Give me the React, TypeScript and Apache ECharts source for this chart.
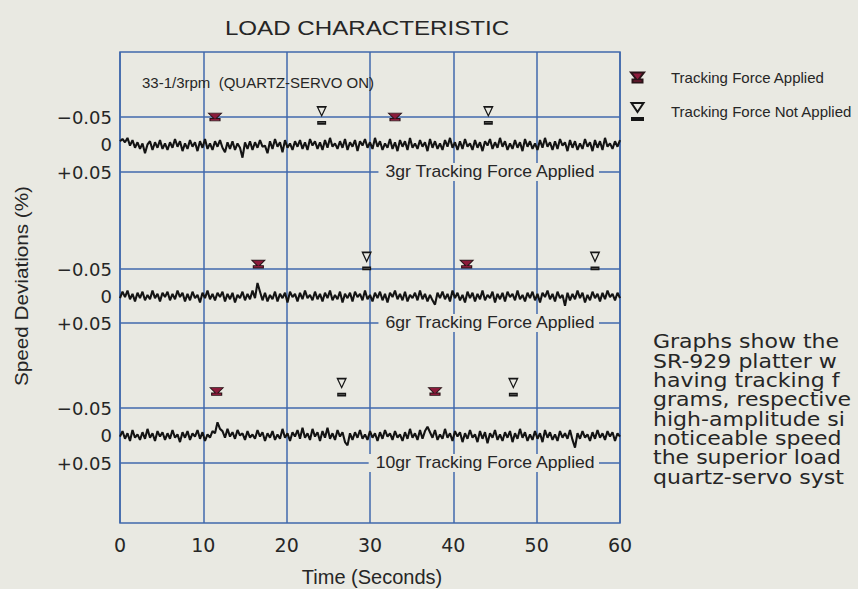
import React, { useEffect, useRef } from "react";
import * as echarts from "echarts";

// ---------- data ----------
const TITLE = "LOAD CHARACTERISTIC";
const SUBTITLE = "33-1/3rpm  (QUARTZ-SERVO ON)";
const X_NAME = "Time (Seconds)";
const Y_NAME = "Speed Deviations (%)";
const TIME_MIN = 0;
const TIME_MAX = 60;
const TIME_STEP = 10;
const Y_TICK_LABELS: Record<string, string> = { "-0.05": "\u22120.05", "0": "0", "0.05": "+0.05" };
const BAND_LABELS = ["3gr Tracking Force Applied", "6gr Tracking Force Applied", "10gr Tracking Force Applied"];
const LEGEND_APPLIED = "Tracking Force Applied";
const LEGEND_NOT_APPLIED = "Tracking Force Not Applied";

// marker times (s) per band
const APPLIED_T = [[11.4, 33.0], [16.6, 41.6], [11.6, 37.8]];
const NOT_APPLIED_T = [[24.2, 44.2], [29.6, 57.0], [26.6, 47.2]];
// marker heights (%) per band
const APPLIED_Y = [-0.05, -0.059, -0.08];
const NOT_APPLIED_Y = [-0.053, -0.065, -0.088];

// traces: one sample every 0.3 s, values in steps of 0.002 %
const SAMPLE_STEP = 0.3;
const TRACE_UNIT = 0.002;
const trace3gr = [
  -3, -5, -2, -6, 1, -4, 3, -2, 4, -1, 8, 0, -3, 5, -2, 3, -4, 4, -1, 5,
  -2, 3, -5, 2, -3, 6, -1, 4, -4, 2, -2, 6, -3, 3, -5, 4, -1, 5, -3, 2,
  -4, 3, 7, -2, 4, -3, 5, -1, 3, 12, -2, 4, -3, 5, -2, 3, -4, 2, 1, 8,
  -3, 4, -5, 2, -2, 7, -4, 3, -1, 5, -3, 2, -4, 4, -2, 5, -5, 1, -3, 4,
  -2, 5, -4, 3, -6, 2, -1, 4, -3, 3, -5, 5, -2, 2, -4, 6, -3, 1, -5, 3,
  -2, 4, -6, 2, -3, 5, -1, 3, -5, 4, -2, 6, -4, 2, -3, 5, -6, 3, -1, 4,
  -4, 2, -2, 6, -5, 3, -3, 4, -1, 5, -4, 2, -6, 3, -2, 5, -3, 4, -5, 2,
  -1, 5, -4, 3, -2, 6, -3, 1, -5, 4, -2, 3, -6, 2, -3, 5, -1, 4, -4, 3,
  -2, 6, -5, 2, -3, 4, -1, 5, -4, 3, -6, 2, -2, 5, -3, 4, -5, 1, -2, 6,
  -4, 3, -3, 5, -1, 4, -5, 2, -2, 6, -4, 3, -3, 5, -6, 2, -1, 4, -3, 2, -4,
];
const trace6gr = [
  2, -4, 1, -5, 3, -2, 5, -3, 2, -4, 4, -1, 3, -5, 2, -2, 5, -3, 1, -4,
  4, -2, 3, -5, 1, -3, 5, -2, 4, -4, 2, -1, 6, -3, 2, -5, 3, -2, 4, -3,
  1, -4, 5, -2, 3, -3, 6, -1, 2, -4, 4, -2, 3, -5, 2, -12, -4, 4, -3, 5,
  -1, 3, -4, 5, -2, 2, -3, 6, -4, 1, -2, 5, -3, 3, -5, 2, -1, 4, -4, 3,
  -2, 5, -3, 2, -5, 4, -1, 3, -4, 6, -2, 2, -3, 5, -4, 1, -2, 4, -5, 3,
  -1, 5, -3, 2, -4, 4, -2, 6, -3, 1, -5, 3, -2, 4, -4, 5, -1, 2, -3, 4,
  -5, 3, -2, 5, -1, 4, 8, -3, 2, -4, 3, -2, 5, -5, 2, -3, 4, -1, 6, -4,
  2, -3, 5, -2, 3, -5, 4, -1, 2, -4, 6, -2, 3, -3, 5, -4, 1, -2, 4, -5,
  3, -1, 5, -3, 2, -4, 4, -2, 6, -3, 1, -5, 3, -2, 5, -4, 2, -1, 9, -3,
  4, -2, 3, -5, 2, -3, 6, -1, 4, -4, 2, -2, 5, -3, 3, -5, 1, -2, 4, -3, 2,
];
const trace10gr = [
  1, -4, 3, -2, 5, -5, 2, -1, 4, -3, 3, -6, 2, -2, 5, -4, 1, -3, 4, -2,
  3, -5, 2, -1, 6, -3, 2, -4, 4, -2, 1, -5, 3, -3, 5, -1, 2, -4, -2, -12,
  -6, -4, 2, -6, 1, -3, 3, -5, 0, -2, 4, -4, 2, -1, 3, -5, 1, -3, 5, -2,
  2, -4, 4, -1, 3, -6, 2, -2, 5, -3, 1, -5, 3, -7, 2, -2, 4, -6, 1, -3,
  5, -4, 2, -7, 3, -2, 4, -5, 1, -3, 6, 9, -2, 4, -3, 2, -5, 3, -1, 4,
  -4, 2, -2, 5, -3, 3, -5, 1, -2, 4, -4, 2, -1, 5, -3, 3, -6, 2, -2, 4,
  -5, 3, -4, -8, -3, 2, -5, 4, -1, 3, -6, 2, -2, 5, -4, 1, -3, 6, -2, 3,
  -5, 2, -1, 6, -4, 3, -3, 7, -2, 2, -5, 4, -1, 5, -3, 2, -4, 6, -2, 3,
  -6, 2, -3, 5, -1, 4, -4, 3, -2, 6, -5, 2, -3, 4, -1, 5, -4, 2, -2, 3,
  -5, 4, 11, -2, 3, -4, 2, -1, 5, -3, 3, -5, 2, -2, 4, -4, 1, -3, 5, -2, 1,
];
const TRACES = [trace3gr, trace6gr, trace10gr];

const PARAGRAPH = [
  "Graphs show the",
  "SR-929 platter w",
  "having tracking f",
  "grams, respective",
  "high-amplitude si",
  "noticeable speed",
  "the superior load",
  "quartz-servo syst",
];

// ---------- style / layout ----------
const BG = "#e9e9e2";
const BLUE = "#4068ac";
const TEXT = "#262626";
const RED = "#8c1b3b";
const TRACE = "#141414";
const SANS = "'Liberation Sans', Arial, sans-serif";
const WIDE = "'DejaVu Sans', sans-serif";
const PLOT = { left: 120, top: 52, width: 500, height: 471 };
const BANDS = [
  { top: 117, height: 55 },
  { top: 269, height: 54 },
  { top: 408, height: 55 },
];
const SYM_APPLIED = "path://M0,0 L13,0 L7.6,7 L11.5,7 L11.5,10 L1.5,10 L1.5,7 L5.4,7 Z";
const SYM_NOT_APPLIED = "path://M0,0 L12,0 L6,9 Z M0.5,15 L11.5,15 L11.5,17 L0.5,17 Z";

export default function App() {
  const ref = useRef<HTMLDivElement>(null);
  useEffect(() => {
    if (!ref.current) return;
    const chart = echarts.init(ref.current, undefined, { renderer: "svg" });

    const grids: any[] = [
      {
        left: PLOT.left, top: PLOT.top, width: PLOT.width, height: PLOT.height,
        show: true, borderColor: BLUE, borderWidth: 1.5, backgroundColor: "transparent", z: 1,
      },
      ...BANDS.map((b) => ({ left: PLOT.left, top: b.top, width: PLOT.width, height: b.height, z: 2 })),
    ];
    const xAxes: any[] = [
      {
        gridIndex: 0, type: "value", min: TIME_MIN, max: TIME_MAX, interval: TIME_STEP,
        axisLine: { show: false }, axisTick: { show: false },
        splitLine: { show: true, lineStyle: { color: BLUE, width: 1.5 } },
        axisLabel: { color: TEXT, fontFamily: WIDE, fontSize: 19, margin: 12 },
      },
      ...BANDS.map((_, k) => ({ gridIndex: k + 1, type: "value", min: TIME_MIN, max: TIME_MAX, show: false })),
    ];
    const yAxes: any[] = [
      { gridIndex: 0, type: "value", min: 0, max: 1, show: false },
      ...BANDS.map((_, k) => ({
        gridIndex: k + 1, type: "value", inverse: true, min: -0.05, max: 0.05, interval: 0.05,
        axisLine: { show: false }, axisTick: { show: false },
        splitLine: { show: true, lineStyle: { color: [BLUE, "rgba(0,0,0,0)", BLUE], width: 1.5 } },
        axisLabel: {
          color: TEXT, fontFamily: WIDE, fontSize: 18, margin: 8,
          formatter: (v: number) => Y_TICK_LABELS[String(Math.round(v * 100) / 100)] ?? String(v),
        },
      })),
    ];

    const series: any[] = [];
    TRACES.forEach((tr, k) => {
      series.push({
        type: "line", xAxisIndex: k + 1, yAxisIndex: k + 1, silent: true,
        showSymbol: false, symbol: "none", z: 3,
        lineStyle: { color: TRACE, width: 2.1 },
        data: tr.map((v, i) => [i * SAMPLE_STEP, v * TRACE_UNIT]),
      });
      series.push({
        name: LEGEND_APPLIED, type: "scatter", xAxisIndex: k + 1, yAxisIndex: k + 1,
        symbol: SYM_APPLIED, symbolSize: [13, 10], symbolKeepAspect: true, clip: false, z: 5,
        itemStyle: { color: RED, borderColor: "#2a1418", borderWidth: 1, opacity: 1 },
        data: APPLIED_T[k].map((t) => [t, APPLIED_Y[k]]),
      });
      series.push({
        name: LEGEND_NOT_APPLIED, type: "scatter", xAxisIndex: k + 1, yAxisIndex: k + 1,
        symbol: SYM_NOT_APPLIED, symbolSize: [12, 17], symbolKeepAspect: true, clip: false, z: 5,
        itemStyle: { color: BG, borderColor: "#161616", borderWidth: 1.4, opacity: 1 },
        data: NOT_APPLIED_T[k].map((t) => [t, NOT_APPLIED_Y[k]]),
      });
    });

    const graphics: any[] = [
      {
        type: "text", x: 367, y: 28, scaleX: 1.15, z: 10,
        style: { text: TITLE, fill: TEXT, font: `21px ${SANS}`, textAlign: "center", textVerticalAlign: "middle" },
      },
      {
        type: "text", x: 142, y: 82, z: 10,
        style: { text: SUBTITLE, fill: TEXT, font: `15px ${SANS}`, textAlign: "left", textVerticalAlign: "middle" },
      },
      {
        type: "text", x: 22, y: 286, rotation: Math.PI / 2, scaleX: 1.15, z: 10,
        style: { text: Y_NAME, fill: TEXT, font: `18px ${SANS}`, textAlign: "center", textVerticalAlign: "middle" },
      },
      {
        type: "text", x: 372, y: 577, z: 10,
        style: { text: X_NAME, fill: TEXT, font: `20px ${SANS}`, textAlign: "center", textVerticalAlign: "middle" },
      },
      ...BAND_LABELS.map((t, k) => ({
        type: "text", x: 599, y: BANDS[k].top + BANDS[k].height, scaleX: 1.1, z: 10,
        style: {
          text: t, fill: TEXT, font: `16px ${SANS}`, textAlign: "right", textVerticalAlign: "middle",
          backgroundColor: BG, padding: [1, 4, 1, 5],
        },
      })),
      ...PARAGRAPH.map((t, i) => ({
        type: "text", x: 653, y: 342 + i * 19.3, scaleX: 1.16, z: 10,
        style: { text: t, fill: TEXT, font: `19px ${WIDE}`, textAlign: "left", textVerticalAlign: "middle" },
      })),
    ];

    chart.setOption({
      animation: false,
      backgroundColor: BG,
      grid: grids,
      xAxis: xAxes,
      yAxis: yAxes,
      legend: {
        orient: "vertical", left: 630, top: 70, padding: 0,
        itemWidth: 13, itemHeight: 17, itemGap: 17, selectedMode: false,
        data: [LEGEND_APPLIED, LEGEND_NOT_APPLIED],
        textStyle: { color: TEXT, fontFamily: SANS, fontSize: 15, padding: [0, 0, 0, 22] },
      },
      series,
      graphic: graphics,
    });
    return () => chart.dispose();
  }, []);
  return <div ref={ref} style={{ position: "absolute", left: 0, top: 0, width: 858, height: 589 }} />;
}
